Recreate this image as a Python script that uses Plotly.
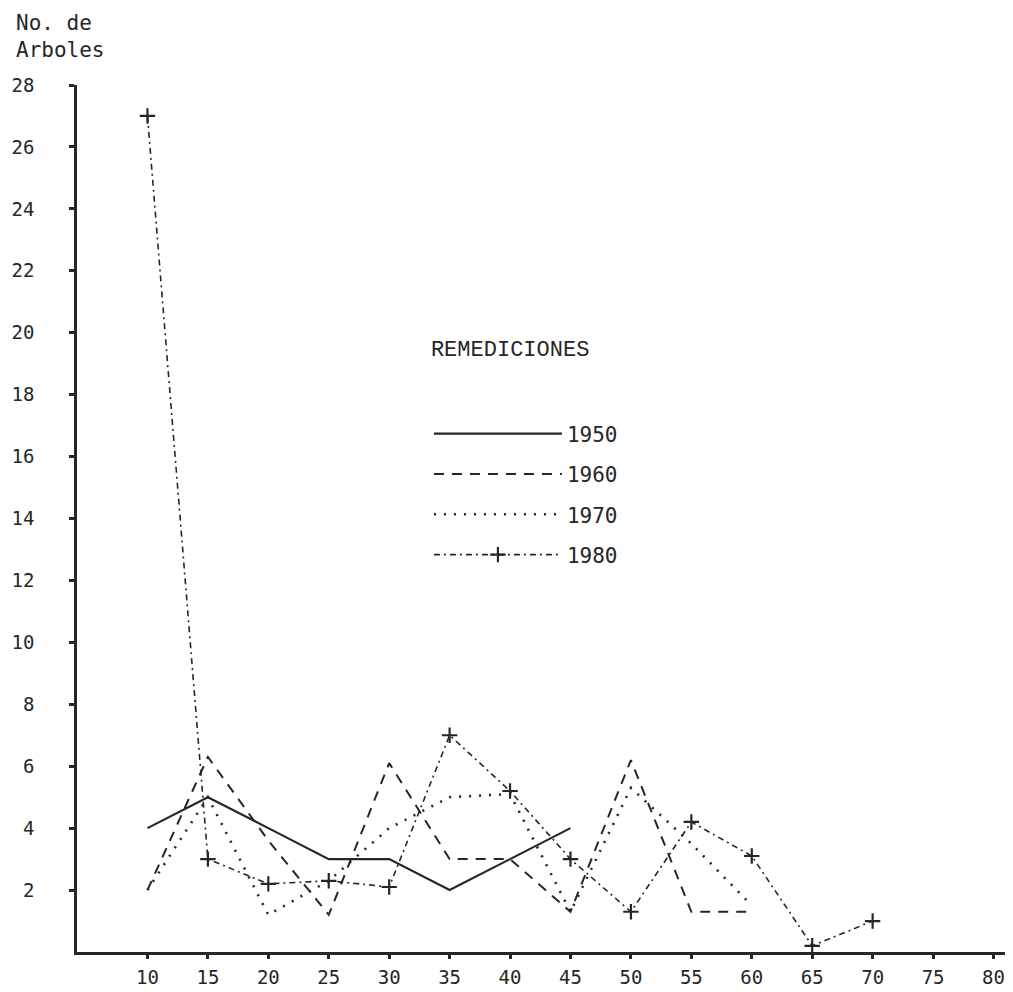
import plotly.graph_objects as go

# Diameter classes (cm)
x_1950 = [10, 15, 20, 25, 30, 35, 40, 45]
y_1950 = [4, 5, 4, 3, 3, 2, 3, 4]

x_1960 = [10, 15, 20, 25, 30, 35, 40, 45, 50, 55, 60]
y_1960 = [2.0, 6.3, 3.6, 1.2, 6.1, 3.0, 3.0, 1.3, 6.2, 1.3, 1.3]

x_1970 = [10, 15, 20, 25, 30, 35, 40, 45, 50, 55, 60]
y_1970 = [2.0, 5.0, 1.2, 2.3, 4.0, 5.0, 5.1, 1.3, 5.3, 3.5, 1.5]

x_1980 = [10, 15, 20, 25, 30, 35, 40, 45, 50, 55, 60, 65, 70]
y_1980 = [27.0, 3.0, 2.2, 2.3, 2.1, 7.0, 5.2, 3.0, 1.3, 4.2, 3.1, 0.2, 1.0]

x_ticks = [10, 15, 20, 25, 30, 35, 40, 45, 50, 55, 60, 65, 70, 75, 80]
y_ticks = [2, 4, 6, 8, 10, 12, 14, 16, 18, 20, 22, 24, 26, 28]

INK = "#262626"
MONO = "DejaVu Sans Mono"

fig = go.Figure()
fig.add_trace(go.Scatter(x=x_1950, y=y_1950, name="1950", mode="lines",
                         legendgroup="a",
                         line=dict(color=INK, width=2.2)))
fig.add_trace(go.Scatter(x=x_1960, y=y_1960, name="1960", mode="lines",
                         legendgroup="b",
                         line=dict(color=INK, width=2, dash="10px,8px")))
fig.add_trace(go.Scatter(x=x_1970, y=y_1970, name="1970", mode="lines",
                         legendgroup="c",
                         line=dict(color=INK, width=2.6, dash="2px,8px")))
fig.add_trace(go.Scatter(x=x_1980, y=y_1980, name="1980", mode="lines+markers",
                         legendgroup="d",
                         line=dict(color=INK, width=1.6, dash="6px,4px,2px,4px"),
                         marker=dict(symbol="cross-thin", size=11,
                                     line=dict(color=INK, width=2.2))))

fig.update_layout(
    width=1005, height=984,
    margin=dict(l=69, r=5, t=77, b=40),
    paper_bgcolor="white", plot_bgcolor="white",
    font=dict(family=MONO, size=19, color=INK),
    hovermode=False,
    showlegend=True,
    legend=dict(
        x=0.378, y=0.72, xanchor="left", yanchor="top",
        bgcolor="rgba(0,0,0,0)",
        title=dict(text="REMEDICIONES<br> <br> ",
                   font=dict(family="Liberation Mono", size=22, color=INK)),
        font=dict(family=MONO, size=21, color=INK),
        tracegroupgap=10,
        itemwidth=128,
    ),
    annotations=[dict(
        text="No. de<br>Arboles", xref="paper", yref="paper",
        x=-0.068, y=1.088, xanchor="left", yanchor="top", align="left",
        showarrow=False, font=dict(family=MONO, size=21, color=INK),
    )],
)

fig.update_xaxes(
    range=[4.17, 81.2], tickvals=x_ticks, ticktext=[str(v) for v in x_ticks],
    showline=True, linecolor=INK, linewidth=2.5, showgrid=False, zeroline=False,
    ticks="outside", ticklen=4, tickwidth=3, tickcolor=INK,
    ticklabelstandoff=2, automargin=False,
)
fig.update_yaxes(
    range=[0, 28], tickvals=y_ticks, ticktext=[str(v) for v in y_ticks],
    showline=True, linecolor=INK, linewidth=2.5, showgrid=False, zeroline=False,
    ticks="outside", ticklen=5, tickwidth=2.5, tickcolor=INK,
    ticklabelstandoff=31, automargin=False,
)

fig.write_html("out.html")
